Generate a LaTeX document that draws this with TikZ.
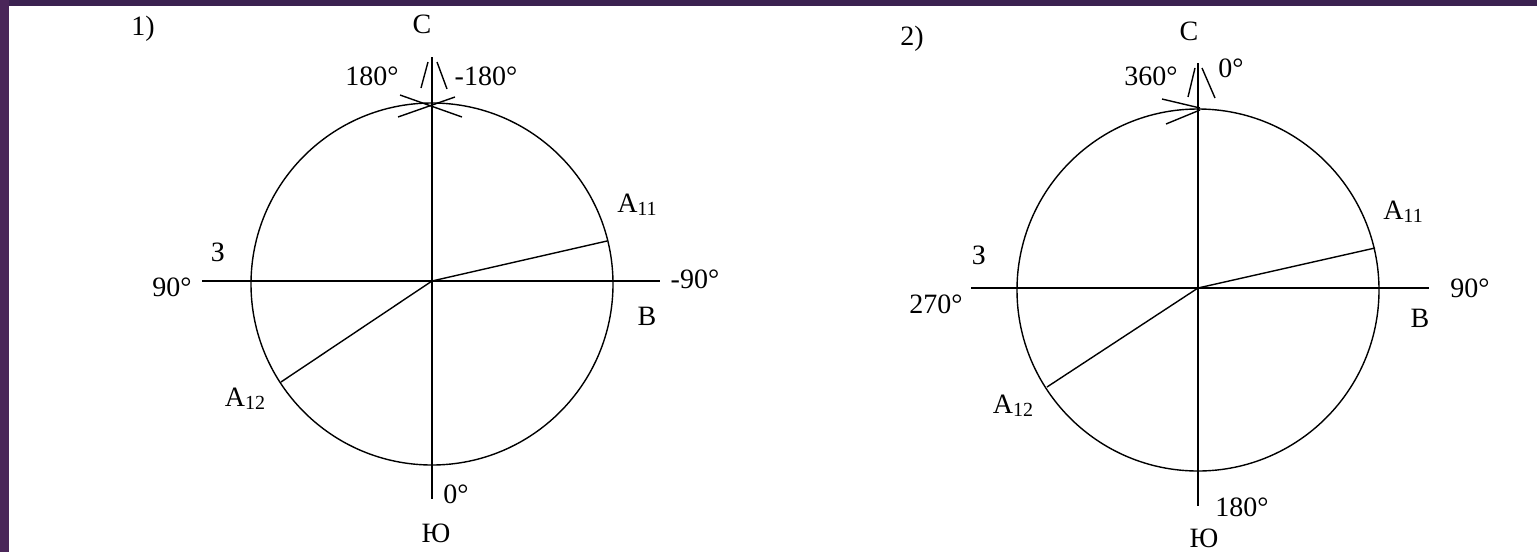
\documentclass[tikz,border=0pt]{standalone}
\usepackage{fontspec}
\setmainfont{Liberation Serif}
\definecolor{bandtop}{RGB}{59,33,80}
\definecolor{bandleft}{RGB}{74,38,89}
\newcommand\lowidx[1]{\raisebox{-3pt}{\fontsize{20}{21}\selectfont #1}}
\begin{document}
\begin{tikzpicture}[x=1pt,y=-1pt,
  ax/.style={line width=1.8pt},
  thinln/.style={line width=1.4pt},
  ring/.style={circle,draw,line width=1.4pt,inner sep=0pt,minimum size=362pt},
  lbl/.style={inner sep=0pt,font=\fontsize{28}{31}\selectfont},
]
\useasboundingbox (0,0) rectangle (1537,552);
\fill[white] (0,0) rectangle (1537,552);
\fill[bandtop] (0,0) rectangle (1537,6);
\fill[bandleft] (0,0) rectangle (9,552);

% ---------- diagram 1 ----------
\node[ring] (circ1) at (432,284) {};
\coordinate (O1) at (432,281);
\coordinate (T1) at (432,57);
\coordinate (B1) at (432,499);
\coordinate (L1) at (202,281);
\coordinate (R1) at (660,281);
\coordinate (P11) at (607,241);
\coordinate (P12) at (281,382);
\coordinate (h1a) at (421,88);
\coordinate (h1b) at (428,62);
\coordinate (h1c) at (447,89);
\coordinate (h1d) at (437,62);
\coordinate (m1a) at (400,95);
\coordinate (m1b) at (462,117);
\coordinate (m1c) at (398,117);
\coordinate (m1d) at (455,97);
\draw[ax] (T1) -- (B1);
\draw[ax] (L1) -- (R1);
\draw[thinln] (O1) -- (P11);
\draw[thinln] (O1) -- (P12);
\draw[thinln] (h1a) -- (h1b);
\draw[thinln] (h1c) -- (h1d);
\draw[thinln] (m1a) -- (m1b);
\draw[thinln] (m1c) -- (m1d);

\node[lbl] (n1) at (143,29) {1)};
\node[lbl] (c1) at (422,24) {С};
\node[lbl] (d180) at (372,76) {180°};
\node[lbl] (dm180) at (486,76) {-180°};
\node[lbl] (z1) at (218,252) {З};
\node[lbl] (d90) at (172,287) {90°};
\node[lbl] (dm90) at (695,279) {-90°};
\node[lbl] (b1) at (647,316) {В};
\node[lbl] (a11) at (637,205) {А\lowidx{11}};
\node[lbl] (a12) at (245,399) {А\lowidx{12}};
\node[lbl] (d0) at (456,494) {0°};
\node[lbl] (yu1) at (436,533) {Ю};

% ---------- diagram 2 ----------
\node[ring] (circ2) at (1198,290) {};
\coordinate (O2) at (1198,288);
\coordinate (T2) at (1198,63);
\coordinate (B2) at (1198,506);
\coordinate (L2) at (971,288);
\coordinate (R2) at (1429,288);
\coordinate (P21) at (1375,248);
\coordinate (P22) at (1047,387);
\coordinate (h2a) at (1188,97);
\coordinate (h2b) at (1195,68);
\coordinate (h2c) at (1215,98);
\coordinate (h2d) at (1202,68);
\coordinate (m2a) at (1162,99);
\coordinate (m2b) at (1200,108);
\coordinate (m2c) at (1166,124);
\coordinate (m2d) at (1200,110);
\draw[ax] (T2) -- (B2);
\draw[ax] (L2) -- (R2);
\draw[thinln] (O2) -- (P21);
\draw[thinln] (O2) -- (P22);
\draw[thinln] (h2a) -- (h2b);
\draw[thinln] (h2c) -- (h2d);
\draw[thinln] (m2a) -- (m2b);
\draw[thinln] (m2c) -- (m2d);

\node[lbl] (n2) at (912,39) {2)};
\node[lbl] (c2) at (1189,31) {С};
\node[lbl] (d360) at (1151,76) {360°};
\node[lbl] (d0b) at (1231,68) {0°};
\node[lbl] (z2) at (979,255) {З};
\node[lbl] (d270) at (936,304) {270°};
\node[lbl] (d90b) at (1470,288) {90°};
\node[lbl] (b2) at (1420,318) {В};
\node[lbl] (a11b) at (1403,212) {А\lowidx{11}};
\node[lbl] (a12b) at (1013,406) {А\lowidx{12}};
\node[lbl] (d180b) at (1242,507) {180°};
\node[lbl] (yu2) at (1204,538) {Ю};
\end{tikzpicture}
\end{document}
